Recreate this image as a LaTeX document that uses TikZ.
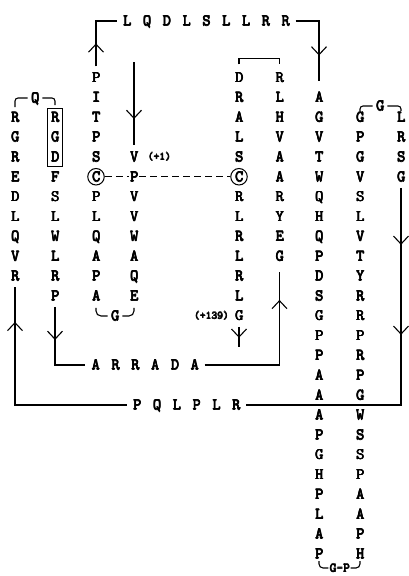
\documentclass[tikz,border=0pt]{standalone}
\usepackage{fontspec}
\newfontfamily\resf{Latin Modern Mono}
\usetikzlibrary{decorations.markings,arrows.meta,fit}
\newcommand\hb[1]{\rlap{#1}\rlap{\kern0.7pt#1}\rlap{\kern0.35pt\raisebox{0.35pt}{#1}}\rlap{\kern0.35pt\raisebox{-0.35pt}{#1}}\phantom{#1}}
\newcommand\sq[1]{\makebox[19.8pt]{\hb{#1}}}
\newcommand\rescol[4]{\foreach \l [count=\i from #3] in {#4}{\node[res] (#1-\i) at (#2,{77.5+19.85*\i}) {\hb{\l}};}}
\begin{document}
\begin{tikzpicture}[x=1pt,y=-1pt,
 res/.style={inner sep=0pt,text height=9.8pt,text depth=0pt,font=\resf\fontsize{16}{18}\selectfont},
 lbl/.style={inner sep=0pt,font=\resf\fontsize{11}{12}\selectfont},
 gpl/.style={inner sep=0pt,text height=8pt,text depth=0pt,font=\resf\fontsize{13}{14}\selectfont},
 ln/.style={line width=1.1pt},
 arrat/.style={postaction={decorate,decoration={markings,mark=at position #1 with {\arrow{Straight Barb[length=8pt,width=15pt]}}}}},
 arrtwo/.style 2 args={postaction={decorate,decoration={markings,mark=at position #1 with {\arrow{Straight Barb[length=8pt,width=15pt]}},mark=at position #2 with {\arrow{Straight Barb[length=8pt,width=15pt]}}}}},
 circ/.style={draw,circle,line width=1pt,minimum size=16.5pt,inner sep=0pt},
 dsh/.style={line width=1pt,dash pattern=on 7pt off 4pt},
]
\fill[white] (0,0) rectangle (409,576);
\useasboundingbox (0,0) rectangle (409,576);

% residue columns
\rescol{c1}{15}{2}{R,G,R,E,D,L,Q,V,R}
\rescol{c2}{55}{2}{R,G,D,F,S,L,W,L,R,P}
\rescol{c3}{96}{0}{P,I,T,P,S,C,P,L,Q,A,P,A}
\rescol{c4}{134}{4}{V,P,V,V,W,A,Q,E}
\rescol{c5}{239}{0}{D,R,A,L,S,C,R,L,R,L,R,L,G}
\rescol{c6}{279.5}{0}{R,L,H,V,A,A,R,Y,E,G}
\rescol{c7}{319}{1}{A,G,V,T,W,Q,H,Q,P,D,S,G,P,P,A,A,A,P,G,H,P,L,A,P}
\rescol{c8}{360}{2}{G,P,G,V,S,L,V,T,Y,R,R,P,R,P,G,W,S,S,P,A,A,P,H}
\rescol{c9}{401}{2}{L,R,S,G}

\node[circ] (cc3) at (c3-5) {};
\node[circ] (cc5) at (c5-5) {};
\node[draw,line width=0.9pt,inner xsep=3pt,inner ysep=4pt,fit=(c2-2)(c2-4)] (rgd) {};

% horizontal sequences
\node[res] (top) at (206.2,21) {\sq{L}\sq{Q}\sq{D}\sq{L}\sq{S}\sq{L}\sq{L}\sq{R}\sq{R}};
\node[res] (arrada) at (145,365) {\sq{A}\sq{R}\sq{R}\sq{A}\sq{D}\sq{A}};
\node[res] (pq) at (186.5,405) {\sq{P}\sq{Q}\sq{L}\sq{P}\sq{L}\sq{R}};

% loop residues
\node[res] (qb) at (35,98) {\hb{Q}};
\node[res] (gb) at (380,106) {\hb{G}};
\node[res] (gbot) at (115,316) {\hb{G}};
\node[gpl] (gp) at (339.5,568) {\hb{G-P}};

% labels
\node[lbl,anchor=west] (lp1) at ([xshift=9pt]c4-4.east) {\hb{(+1)}};
\node[lbl,anchor=east] (lp139) at ([xshift=-6pt]c5-12.west) {\hb{(+139)}};

% corner coordinates
\coordinate (tl) at (96,21);
\coordinate (tr) at (319,21);
\coordinate (c4top) at (134,62);
\coordinate (c5end) at (239,347);
\coordinate (brA) at (279.5,365);
\coordinate (blA) at (55,365);
\coordinate (br) at (401,405);
\coordinate (bl) at (15,405);

% connectors
\draw[ln,arrat=23pt] ([yshift=6pt]c3-0.north) -- (tl) -- (top.west);
\draw[ln,arrat=58pt] (top.east) -- (tr) -- ([yshift=11pt]c7-1.north);
\draw[ln,arrat=57pt] (c4top) -- ([yshift=7pt]c4-4.north);
\draw[dsh] (cc3.east) -- ([xshift=-1pt]c4-5.west);
\draw[dsh] ([xshift=1pt]c4-5.east) -- (cc5.west);
\draw[ln] ([yshift=8pt]c5-0.north) -- ++(0,-6) -| ([yshift=8pt]c6-0.north);
\draw[ln,arrat=11pt] ([yshift=-6pt]c5-12.south) -- (c5end);
\draw[ln,arrat=33pt] ([yshift=-6pt]c2-11.south) -- (blA) -- (arrada.west);
\draw[ln,arrat=140pt] (arrada.east) -- (brA) -- ([yshift=-11pt]c6-9.south);
\draw[ln,arrtwo={57pt}{147pt}] ([yshift=-6pt]c9-5.south) -- (br) -- (pq.east);
\draw[ln,arrat=195pt] (pq.west) -- (bl) -- ([yshift=-6pt]c1-10.south);

% loop brackets
\draw[ln,rounded corners=3pt] ([yshift=5pt]c1-2.north) |- ([xshift=-3pt]qb.west);
\draw[ln,rounded corners=3pt] ([xshift=3pt]qb.east) -| ([yshift=7pt]c2-2.north);
\draw[ln,rounded corners=3pt] ([yshift=1pt]c8-2.north) |- ([xshift=-3pt]gb.west);
\draw[ln,rounded corners=3pt] ([xshift=3pt]gb.east) -| ([yshift=1pt]c9-2.north);
\draw[ln,rounded corners=5pt] ([yshift=-7pt]c3-11.south) |- ([xshift=-3pt]gbot.west);
\draw[ln,rounded corners=5pt] ([xshift=3pt]gbot.east) -| ([yshift=-7pt]c4-11.south);
\draw[ln,rounded corners=4pt] ([yshift=-2pt]c7-24.south) |- ([xshift=-1pt]gp.west);
\draw[ln,rounded corners=4pt] ([xshift=1pt]gp.east) -| ([yshift=-2pt]c8-24.south);
\end{tikzpicture}
\end{document}
